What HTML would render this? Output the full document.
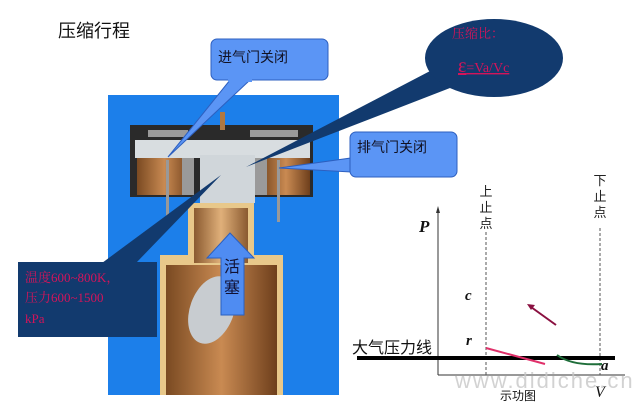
<!DOCTYPE html>
<html><head><meta charset="utf-8"><style>
html,body{margin:0;padding:0;background:#fff;}
svg{display:block;font-family:"Liberation Serif","Noto Serif CJK SC",serif;}
.s{font-family:"Liberation Sans","Noto Sans CJK SC",sans-serif;}
</style></head><body>
<svg width="640" height="409" viewBox="0 0 640 409" xmlns="http://www.w3.org/2000/svg">
<defs>
<linearGradient id="br" x1="0" x2="1"><stop offset="0" stop-color="#7a4a22"/><stop offset="0.5" stop-color="#c98a52"/><stop offset="1" stop-color="#6e3f1c"/></linearGradient>
<linearGradient id="br2" x1="0" x2="1"><stop offset="0" stop-color="#8a5a30"/><stop offset="0.5" stop-color="#e0b07a"/><stop offset="1" stop-color="#8a5a30"/></linearGradient>
</defs>
<text x="58" y="37" font-size="18" class="s" fill="#111">压缩行程</text>
<rect x="108" y="95" width="231" height="300" fill="#1c7fea"/>
<rect x="130" y="125" width="183" height="72" fill="#2a2a2a"/>
<rect x="148" y="130" width="40" height="7" fill="#9a9a9a"/>
<rect x="250" y="130" width="48" height="7" fill="#9a9a9a"/>
<rect x="135" y="140" width="175" height="18" fill="#d8dde0"/>
<rect x="200" y="155" width="55" height="48" fill="#d0d6da"/>
<rect x="137" y="158" width="55" height="37" fill="url(#br)"/>
<rect x="262" y="158" width="48" height="37" fill="url(#br)"/>
<rect x="182" y="158" width="12" height="37" fill="#9a9a9a"/>
<rect x="255" y="158" width="12" height="37" fill="#9a9a9a"/>
<rect x="166" y="160" width="3" height="60" fill="#999"/>
<rect x="277" y="160" width="3" height="62" fill="#999"/>
<rect x="220" y="112" width="5" height="18" fill="#b07840"/>
<rect x="188" y="203" width="66" height="55" fill="#e8c88a"/>
<rect x="160" y="255" width="123" height="140" fill="#e8c88a"/>
<rect x="194" y="208" width="54" height="55" fill="url(#br2)"/>
<rect x="166" y="265" width="111" height="130" fill="url(#br)"/>
<ellipse cx="212" cy="310" rx="22" ry="35" fill="#c8ccd0" transform="rotate(20 212 310)"/>
<polygon points="230,233 254,258 244,258 244,315 221,315 221,258 207,258" fill="#4f8cf2" stroke="#2a5fc0"/>
<text x="232" y="272" font-size="16" class="s" fill="#113" text-anchor="middle">活</text>
<text x="232" y="293" font-size="16" class="s" fill="#113" text-anchor="middle">塞</text>
<polygon points="230,80 250,80 168,157" fill="#5b95f5" stroke="#2d5fbf"/>
<rect x="211" y="39" width="117" height="41" rx="6" fill="#5b95f5" stroke="#2d5fbf"/>
<rect x="228" y="78" width="24" height="4" fill="#5b95f5"/>
<text x="218" y="62" font-size="14" class="s" fill="#112">进气门关闭</text>
<polygon points="351,158 351,172 279,168" fill="#5b95f5" stroke="#2d5fbf"/>
<rect x="350" y="132" width="107" height="45" rx="6" fill="#5b95f5" stroke="#2d5fbf"/>
<text x="357" y="152" font-size="14" class="s" fill="#112">排气门关闭</text>
<polygon points="432,70 450,88 246,167" fill="#123a6e"/>
<ellipse cx="494" cy="58" rx="69" ry="39" fill="#123a6e"/>
<text x="452" y="38" font-size="13" fill="#d4145a">压缩比：</text>
<text x="458" y="72" font-size="14" fill="#d4145a" text-decoration="underline"><tspan font-size="20">ε</tspan>=Va/Vc</text>
<polygon points="102,263 136,263 221,175" fill="#123a6e"/>
<rect x="18" y="262" width="139" height="75" fill="#123a6e"/>
<text x="25" y="282" font-size="13" fill="#d4145a">温度600~800K，</text>
<text x="25" y="302" font-size="13" fill="#d4145a">压力600~1500</text>
<text x="25" y="323" font-size="13" fill="#d4145a">kPa</text>
<line x1="438" y1="375" x2="438" y2="210" stroke="#333"/>
<polygon points="438,206 436,213 440,213" fill="#333"/>
<line x1="438" y1="375" x2="625" y2="375" stroke="#333"/>
<line x1="486" y1="232" x2="486" y2="375" stroke="#555" stroke-dasharray="3,2"/>
<line x1="600" y1="228" x2="600" y2="375" stroke="#555" stroke-dasharray="3,2"/>
<text x="486" y="196" font-size="13" class="s" fill="#222" text-anchor="middle">上</text>
<text x="486" y="212" font-size="13" class="s" fill="#222" text-anchor="middle">止</text>
<text x="486" y="228" font-size="13" class="s" fill="#222" text-anchor="middle">点</text>
<text x="600" y="185" font-size="13" class="s" fill="#222" text-anchor="middle">下</text>
<text x="600" y="201" font-size="13" class="s" fill="#222" text-anchor="middle">止</text>
<text x="600" y="217" font-size="13" class="s" fill="#222" text-anchor="middle">点</text>
<text x="419" y="232" font-size="17" font-style="italic" font-weight="bold" fill="#111">P</text>
<text x="465" y="300" font-size="15" font-style="italic" font-weight="bold" fill="#111">c</text>
<text x="466" y="345" font-size="15" font-style="italic" font-weight="bold" fill="#111">r</text>
<text x="352" y="353" font-size="16" class="s" fill="#111">大气压力线</text>
<line x1="357" y1="358" x2="615" y2="358" stroke="#000" stroke-width="4"/>
<path d="M486,348 Q515,356 545,364" stroke="#e0306a" stroke-width="2" fill="none"/>
<line x1="556" y1="325" x2="531" y2="307" stroke="#8a1040" stroke-width="2"/>
<polygon points="527,304 535,305 531,310" fill="#8a1040"/>
<path d="M557,355 Q572,366 602,364" stroke="#1f6e3a" stroke-width="2" fill="none"/>
<text x="601" y="370" font-size="15" font-style="italic" font-weight="bold" fill="#111">a</text>
<text x="595" y="397" font-size="16" font-style="italic" fill="#111">V</text>
<text x="500" y="400" font-size="12" class="s" fill="#111">示功图</text>
<text x="455" y="388" font-size="22" class="s" fill="#c8c8c8" opacity="0.8" letter-spacing="2">www.didiche.cn</text>
</svg>
</body></html>
